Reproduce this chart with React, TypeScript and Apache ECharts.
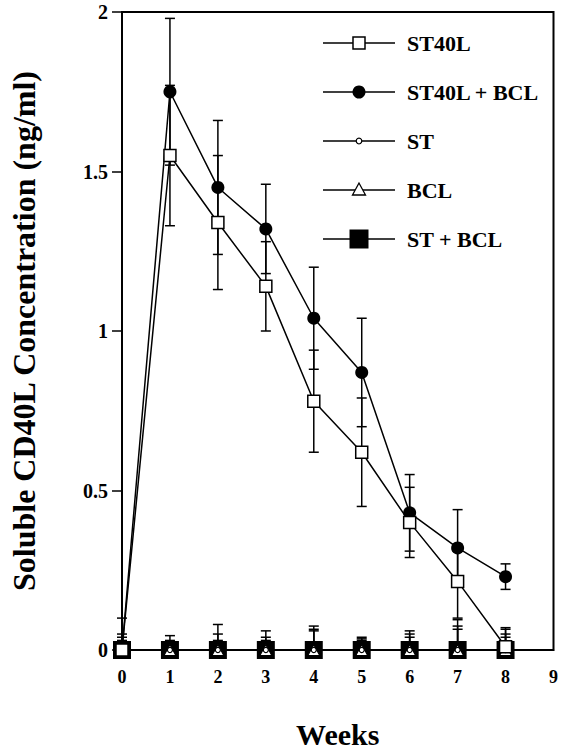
import React, { useEffect, useRef } from "react";
import * as echarts from "echarts";

const weeks = [0, 1, 2, 3, 4, 5, 6, 7, 8];
const seriesNames = ["ST40L", "ST40L + BCL", "ST", "BCL", "ST + BCL"];

const st40l = [0, 1.55, 1.34, 1.14, 0.78, 0.62, 0.4, 0.215, 0.01];
const st40lErr = [0.1, 0.22, 0.21, 0.14, 0.16, 0.17, 0.11, 0.115, 0.06];

const st40lBcl = [0, 1.75, 1.45, 1.32, 1.04, 0.87, 0.43, 0.32, 0.23];
const st40lBclErr = [0.05, 0.23, 0.21, 0.14, 0.16, 0.17, 0.12, 0.12, 0.04];

const st = [0, 0, 0, 0, 0, 0, 0, 0, 0];
const stErr = [0.03, 0.045, 0.05, 0.04, 0.065, 0.04, 0.05, 0.065, 0.05];

const bcl = [0, 0, 0, 0, 0, 0, 0, 0, 0];
const bclErr = [0.02, 0.03, 0.08, 0.06, 0.075, 0.035, 0.06, 0.075, 0.065];

const stBcl = [0, 0, 0, 0, 0, 0, 0, 0, 0];
const stBclErr = [0.04, 0.02, 0.03, 0.03, 0.06, 0.03, 0.04, 0.095, 0.04];

const xTicks = [0, 1, 2, 3, 4, 5, 6, 7, 8, 9];
const yTicks = [0, 0.5, 1, 1.5, 2];

const FONT = "Liberation Serif";

function pairs(vals: number[]) {
  return weeks.map((w, i) => [w, vals[i]]);
}
function errPairs(vals: number[], errs: number[]) {
  return weeks.map((w, i) => [w, Math.max(0, vals[i] - errs[i]), vals[i] + errs[i]]);
}

export default function App() {
  const ref = useRef<HTMLDivElement>(null);
  useEffect(() => {
    if (!ref.current) return;
    const chart = echarts.init(ref.current, undefined, { renderer: "svg" });

    const errorRender = (params: any, api: any) => {
      const x = api.value(0);
      const lo = api.value(1);
      const hi = api.value(2);
      const pHi = api.coord([x, hi]);
      const pLo = api.coord([x, lo]);
      const w = 5;
      const st = { stroke: "#000", lineWidth: 1.5 };
      return {
        type: "group",
        children: [
          { type: "line", shape: { x1: pHi[0], y1: pHi[1], x2: pLo[0], y2: pLo[1] }, style: st },
          { type: "line", shape: { x1: pHi[0] - w, y1: pHi[1], x2: pHi[0] + w, y2: pHi[1] }, style: st },
          { type: "line", shape: { x1: pLo[0] - w, y1: pLo[1], x2: pLo[0] + w, y2: pLo[1] }, style: st },
        ],
      };
    };

    const errSeries = (vals: number[], errs: number[]) => ({
      type: "custom",
      renderItem: errorRender,
      data: errPairs(vals, errs),
      z: 1,
      silent: true,
      encode: { x: 0, y: [1, 2] },
    });

    const lineBase = {
      type: "line",
      lineStyle: { color: "#000", width: 1.5 },
      showAllSymbol: true,
      silent: true,
    };

    // Legend drawn as graphic
    const legendX1 = 323;
    const legendX2 = 395;
    const legendCx = 359;
    const legendTextX = 407;
    const rowY = [43, 92, 141, 190, 239];
    const legendSymbols: any[] = [
      { type: "rect", shape: { x: legendCx - 6, y: rowY[0] - 6, width: 12, height: 12 }, style: { fill: "#fff", stroke: "#000", lineWidth: 1.5 } },
      { type: "circle", shape: { cx: legendCx, cy: rowY[1], r: 6.5 }, style: { fill: "#000" } },
      { type: "circle", shape: { cx: legendCx, cy: rowY[2], r: 2.8 }, style: { fill: "#fff", stroke: "#000", lineWidth: 1.2 } },
      { type: "polygon", shape: { points: [[legendCx, rowY[3] - 7], [legendCx - 6.5, rowY[3] + 5], [legendCx + 6.5, rowY[3] + 5]] }, style: { fill: "#fff", stroke: "#000", lineWidth: 1.3 } },
      { type: "rect", shape: { x: legendCx - 9.5, y: rowY[4] - 9.5, width: 19, height: 19 }, style: { fill: "#000" } },
    ];
    const legendGraphics: any[] = [];
    seriesNames.forEach((name, i) => {
      legendGraphics.push({
        type: "line",
        shape: { x1: legendX1, y1: rowY[i], x2: legendX2, y2: rowY[i] },
        style: { stroke: "#000", lineWidth: 1.5 },
      });
      legendGraphics.push(legendSymbols[i]);
      legendGraphics.push({
        type: "text",
        x: legendTextX,
        y: rowY[i],
        style: {
          text: name,
          fontFamily: FONT,
          fontWeight: "bold",
          fontSize: 22,
          fill: "#000",
          verticalAlign: "middle",
          align: "left",
        },
      });
    });

    chart.setOption({
      animation: false,
      backgroundColor: "#fff",
      textStyle: { fontFamily: FONT },
      grid: {
        left: 122,
        top: 12,
        right: 5,
        bottom: 103,
        show: true,
        borderColor: "#000",
        borderWidth: 2,
        backgroundColor: "transparent",
      },
      xAxis: {
        type: "value",
        min: xTicks[0],
        max: xTicks[xTicks.length - 1],
        interval: 1,
        name: "Weeks",
        nameLocation: "middle",
        nameGap: 69,
        nameTextStyle: { fontFamily: FONT, fontWeight: "bold", fontSize: 30, color: "#000" },
        axisLine: { show: true, lineStyle: { color: "#000", width: 1.5 } },
        axisTick: { show: false },
        axisLabel: { margin: 18, fontFamily: FONT, fontWeight: "bold", fontSize: 18, color: "#000" },
        splitLine: { show: false },
      },
      yAxis: {
        type: "value",
        min: yTicks[0],
        max: yTicks[yTicks.length - 1],
        interval: 0.5,
        name: "Soluble CD40L Concentration (ng/ml)",
        nameLocation: "middle",
        nameGap: 82,
        nameRotate: 90,
        nameTextStyle: { fontFamily: FONT, fontWeight: "bold", fontSize: 32, color: "#000" },
        axisLine: { show: true, lineStyle: { color: "#000", width: 2 } },
        axisTick: { show: true, inside: false, length: 10, lineStyle: { color: "#000", width: 1.5 } },
        axisLabel: { margin: 14, fontFamily: FONT, fontWeight: "bold", fontSize: 20, color: "#000" },
        splitLine: { show: false },
      },
      graphic: legendGraphics,
      series: [
        errSeries(stBcl, stBclErr),
        errSeries(bcl, bclErr),
        errSeries(st, stErr),
        errSeries(st40lBcl, st40lBclErr),
        errSeries(st40l, st40lErr),
        {
          ...lineBase,
          name: "ST + BCL",
          data: pairs(stBcl),
          symbol: "rect",
          symbolSize: 18,
          itemStyle: { color: "#000", borderWidth: 0 },
          z: 2,
        },
        {
          ...lineBase,
          name: "BCL",
          data: pairs(bcl),
          symbol: "triangle",
          symbolSize: [12, 11],
          itemStyle: { color: "#fff", borderColor: "#000", borderWidth: 1.2 },
          z: 3,
        },
        {
          ...lineBase,
          name: "ST",
          data: pairs(st),
          symbol: "circle",
          symbolSize: 5,
          itemStyle: { color: "#fff", borderColor: "#000", borderWidth: 1.2 },
          z: 4,
        },
        {
          ...lineBase,
          name: "ST40L + BCL",
          data: pairs(st40lBcl),
          symbol: "circle",
          symbolSize: 13,
          itemStyle: { color: "#000", borderWidth: 0 },
          z: 5,
        },
        {
          ...lineBase,
          name: "ST40L",
          data: pairs(st40l),
          symbol: "rect",
          symbolSize: 12,
          itemStyle: { color: "#fff", borderColor: "#000", borderWidth: 1.5 },
          z: 6,
        },
      ],
    });
    return () => chart.dispose();
  }, []);
  return <div ref={ref} style={{ width: 561, height: 754, position: "absolute", left: 0, top: 0 }} />;
}
